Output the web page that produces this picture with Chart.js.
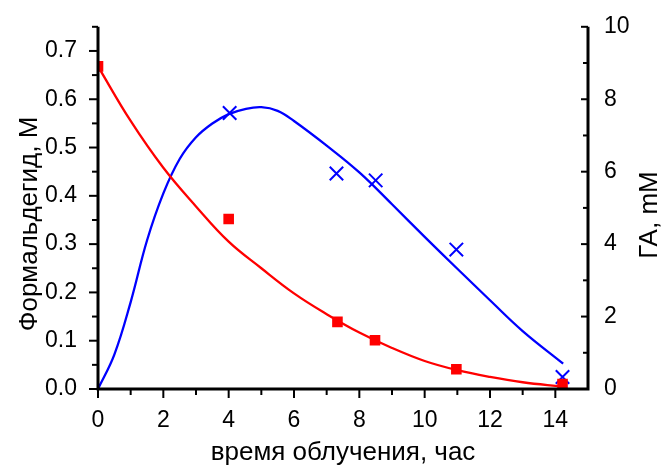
<!DOCTYPE html>
<html>
<head>
<meta charset="utf-8">
<script src="https://cdn.jsdelivr.net/npm/chart.js@4.4.1/dist/chart.umd.min.js"></script>
<style>
  html, body { margin: 0; padding: 0; background: #fff; }
  #wrap { width: 661px; height: 466px; }
</style>
</head>
<body>
<div id="wrap"><canvas id="kineticsChart" width="661" height="466"></canvas></div>
<script>
// irradiation time, h
const timeFA = [0, 4, 7.33, 8.48, 10.97, 14.22];
const formaldehyde = [0.668, 0.352, 0.139, 0.101, 0.041, 0.01];   // M

const timeGA = [4.03, 7.3, 8.5, 10.97, 14.22];
const glycolaldehyde = [7.62, 5.95, 5.76, 3.85, 0.33];            // mM

// fitted curves
const fitTimeFA = [0, 1, 2, 3, 4, 5, 6, 7, 8, 9, 10, 11, 12, 13, 14.2];
const fitFA = [0.668, 0.555, 0.458, 0.378, 0.305, 0.25, 0.198, 0.155, 0.117, 0.085, 0.058, 0.039, 0.025, 0.014, 0.005];

const fitTimeGA = [0, 0.5, 1, 1.5, 2, 2.5, 3, 3.5, 4, 4.5, 5, 5.5, 6, 7, 8, 9, 10, 11, 12, 13, 14.24];
const fitGA = [0, 0.95, 2.4, 4.1, 5.4, 6.35, 6.95, 7.33, 7.59, 7.73, 7.78, 7.68, 7.4, 6.72, 5.98, 5.1, 4.2, 3.32, 2.45, 1.6, 0.7];

// tick labels
const xTicks = [0, 2, 4, 6, 8, 10, 12, 14];
const yLeftTicks = [0, 0.1, 0.2, 0.3, 0.4, 0.5, 0.6, 0.7];
const yRightTicks = [0, 2, 4, 6, 8, 10];

const FONT = '"Liberation Sans", Arial, sans-serif';

const pts = (xs, ys) => xs.map((x, i) => ({ x: x, y: ys[i] }));

// half-step positions between major ticks, up to the axis end
function minors(ticks, max) {
    const step = ticks[1] - ticks[0];
    const out = [];
    for (let v = ticks[0] + step / 2; v <= max + 1e-9; v += step) out.push(v);
    return out;
}

// axis lines, major/minor tick marks and titles
const axesPlugin = {
    id: 'originAxes',
    afterDatasetsDraw(chart) {
        const { ctx, chartArea: a, scales } = chart;
        const line = (x1, y1, x2, y2) => {
            ctx.beginPath(); ctx.moveTo(x1, y1); ctx.lineTo(x2, y2); ctx.stroke();
        };
        ctx.save();
        ctx.strokeStyle = '#000';
        ctx.lineWidth = 2;

        xTicks.forEach(v => { const p = scales.x.getPixelForValue(v); line(p, a.bottom, p, a.bottom + 9); });
        minors(xTicks, 14.9).forEach(v => { const p = scales.x.getPixelForValue(v); line(p, a.bottom, p, a.bottom + 6); });

        yLeftTicks.forEach(v => { const p = scales.y.getPixelForValue(v); line(a.left - 9, p, a.left, p); });
        minors(yLeftTicks, 0.75).forEach(v => { const p = scales.y.getPixelForValue(v); line(a.left - 6, p, a.left, p); });

        yRightTicks.forEach(v => { const p = scales.y1.getPixelForValue(v); line(a.right - 7, p, a.right, p); });
        minors(yRightTicks, 10).forEach(v => { const p = scales.y1.getPixelForValue(v); line(a.right - 5, p, a.right, p); });

        ctx.lineWidth = 3;
        ctx.lineJoin = 'miter';
        ctx.beginPath();
        ctx.moveTo(a.left, a.top);
        ctx.lineTo(a.left, a.bottom);
        ctx.lineTo(a.right, a.bottom);
        ctx.lineTo(a.right, a.top);
        ctx.stroke();

        ctx.fillStyle = '#000';
        ctx.font = '26px ' + FONT;
        ctx.textAlign = 'center';
        ctx.textBaseline = 'alphabetic';
        ctx.fillText('время облучения, час', (a.left + a.right) / 2, 460);

        ctx.save();
        ctx.translate(37, 224);
        ctx.rotate(-Math.PI / 2);
        ctx.fillText('Формальдегид, M', 0, 0);
        ctx.restore();

        ctx.save();
        ctx.translate(657, 215);
        ctx.rotate(-Math.PI / 2);
        ctx.fillText('ГА, mM', 0, 0);
        ctx.restore();

        ctx.restore();
    }
};

const tickFont = { family: FONT, size: 23 };

new Chart(document.getElementById('kineticsChart').getContext('2d'), {
    type: 'scatter',
    data: {
        datasets: [
            {
                label: 'Формальдегид',
                data: pts(timeFA, formaldehyde),
                yAxisID: 'y',
                pointStyle: 'rect',
                pointRadius: 7.5,
                pointBackgroundColor: '#ff0000',
                pointBorderWidth: 0,
                showLine: false
            },
            {
                label: 'Формальдегид, fit',
                data: pts(fitTimeFA, fitFA),
                yAxisID: 'y',
                showLine: true,
                pointRadius: 0,
                borderColor: '#ff0000',
                borderWidth: 2.3,
                tension: 0.4
            },
            {
                label: 'ГА',
                data: pts(timeGA, glycolaldehyde),
                yAxisID: 'y1',
                pointStyle: 'crossRot',
                pointRadius: 9.5,
                pointBorderColor: '#0000ff',
                pointBorderWidth: 2,
                showLine: false
            },
            {
                label: 'ГА, fit',
                data: pts(fitTimeGA, fitGA),
                yAxisID: 'y1',
                showLine: true,
                pointRadius: 0,
                borderColor: '#0000ff',
                borderWidth: 2.3,
                tension: 0.4
            }
        ]
    },
    options: {
        responsive: false,
        animation: false,
        devicePixelRatio: 1,
        layout: { padding: { top: 26, left: 0, right: 0, bottom: 0 } },
        plugins: {
            legend: { display: false },
            tooltip: { enabled: false }
        },
        scales: {
            x: {
                type: 'linear',
                min: 0,
                max: 15,
                grid: { display: false },
                border: { display: false },
                afterBuildTicks: s => { s.ticks = xTicks.map(v => ({ value: v })); },
                afterFit: s => { s.height = 77; },
                ticks: { font: tickFont, color: '#000', padding: 10, maxRotation: 0 }
            },
            y: {
                position: 'left',
                min: 0,
                max: 0.75,
                grid: { display: false },
                border: { display: false },
                afterBuildTicks: s => { s.ticks = yLeftTicks.map(v => ({ value: v })); },
                afterFit: s => { s.width = 98; },
                ticks: { font: tickFont, color: '#000', padding: 13, callback: v => v.toFixed(1) }
            },
            y1: {
                position: 'right',
                min: 0,
                max: 10,
                grid: { display: false },
                border: { display: false },
                afterBuildTicks: s => { s.ticks = yRightTicks.map(v => ({ value: v })); },
                afterFit: s => { s.width = 73; },
                ticks: { font: tickFont, color: '#000', padding: 8 }
            }
        }
    },
    plugins: [axesPlugin]
});
</script>
</body>
</html>
